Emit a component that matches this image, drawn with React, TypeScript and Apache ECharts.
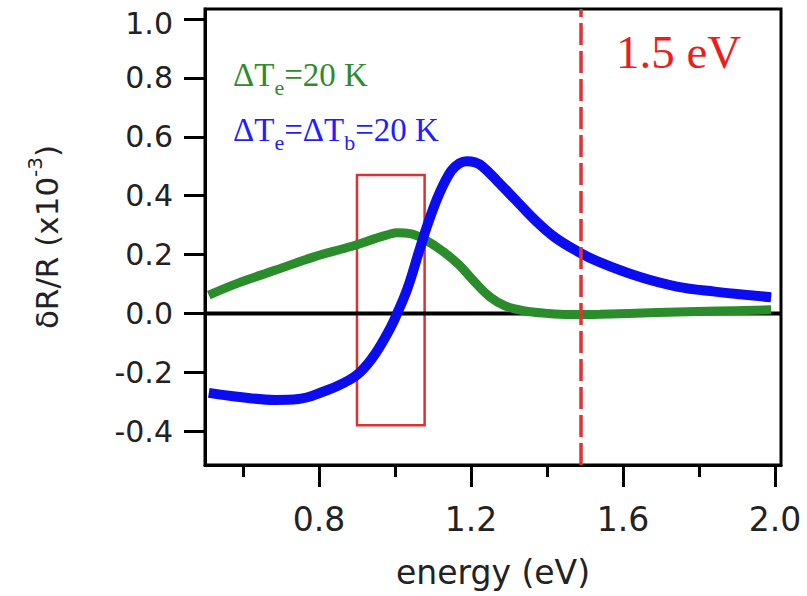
import React, { useEffect, useRef } from "react";
import * as echarts from "echarts";

// axis ticks / labels
const xMajorTicks = [0.8, 1.2, 1.6, 2.0];
const xMinorTicks = [0.6, 1.0, 1.4, 1.8];
const yTicks = [-0.4, -0.2, 0.0, 0.2, 0.4, 0.6, 0.8, 1.0];

// ΔTe = 20 K (green)
const greenE = [0.51, 0.585, 0.686, 0.787, 0.887, 0.947, 0.98, 1.008, 1.04, 1.078, 1.128, 1.169, 1.209, 1.249, 1.289, 1.339, 1.4, 1.46, 1.54, 1.69, 1.85, 1.99];
const greenV = [0.062, 0.102, 0.147, 0.192, 0.228, 0.254, 0.267, 0.274, 0.271, 0.251, 0.209, 0.164, 0.108, 0.057, 0.026, 0.009, 0.0, -0.004, -0.003, 0.003, 0.008, 0.012];

// ΔTe = ΔTb = 20 K (blue)
const blueE = [0.51, 0.585, 0.686, 0.746, 0.807, 0.867, 0.907, 0.947, 0.988, 1.008, 1.033, 1.063, 1.088, 1.118, 1.148, 1.17, 1.189, 1.21, 1.229, 1.269, 1.319, 1.37, 1.42, 1.48, 1.54, 1.641, 1.742, 1.842, 1.99];
const blueV = [-0.27, -0.283, -0.294, -0.291, -0.268, -0.235, -0.201, -0.139, -0.049, 0.007, 0.085, 0.209, 0.31, 0.411, 0.484, 0.51, 0.517, 0.513, 0.5, 0.45, 0.383, 0.315, 0.259, 0.211, 0.173, 0.125, 0.091, 0.074, 0.055];

// reference markers
const zeroLineE = [0.5, 2.016];
const zeroLineV = [0, 0];
const photonEnergy = 1.485;
const boxE = [0.9, 1.078];
const boxV = [-0.38, 0.47];

const zip = (a: number[], b: number[]) => a.map((v, i) => [v, b[i]]);

export default function App() {
  const ref = useRef<HTMLDivElement>(null);
  useEffect(() => {
    const chart = echarts.init(ref.current!, null, { renderer: "svg" });
    const sans = "DejaVu Sans";
    const serif = "Liberation Serif";
    const tickStyle = { color: "#000", width: 3 };
    chart.setOption({
      animation: false,
      backgroundColor: "#fff",
      grid: {
        left: 205,
        right: 26,
        top: 5,
        bottom: 131,
        show: true,
        borderColor: "#000",
        borderWidth: 3,
        backgroundColor: "transparent",
      },
      xAxis: [
        {
          type: "value",
          min: 0.5,
          max: 2.016,
          position: "bottom",
          axisLine: { show: true, onZero: false, lineStyle: tickStyle },
          axisTick: { show: true, customValues: xMajorTicks, length: 22, lineStyle: tickStyle },
          axisLabel: {
            customValues: xMajorTicks,
            formatter: (v: number) => v.toFixed(1),
            fontFamily: sans,
            fontSize: 33,
            color: "#222",
            margin: 38,
          },
          splitLine: { show: false },
          name: "energy (eV)",
          nameLocation: "middle",
          nameGap: 91,
          nameTextStyle: { fontFamily: sans, fontSize: 33, color: "#222" },
        },
        {
          type: "value",
          min: 0.5,
          max: 2.016,
          position: "bottom",
          axisLine: { show: false, onZero: false },
          axisTick: { show: true, customValues: xMinorTicks, length: 12, lineStyle: tickStyle },
          axisLabel: { show: false },
          splitLine: { show: false },
        },
      ],
      yAxis: {
        type: "value",
        min: -0.515,
        max: 1.034,
        axisLine: { show: true, onZero: false, lineStyle: tickStyle },
        axisTick: { show: true, customValues: yTicks, length: 21, lineStyle: tickStyle },
        axisLabel: {
          customValues: yTicks,
          formatter: (v: number) => (v >= 0.99 ? "{t|" + v.toFixed(1) + "}" : v.toFixed(1)),
          fontFamily: sans,
          fontSize: 30,
          lineHeight: 26,
          color: "#222",
          margin: 32,
          rich: {
            t: { fontFamily: sans, fontSize: 30, lineHeight: 26, color: "#222", padding: [8, 0, 0, 0] },
          },
        },
        splitLine: { show: false },
        name: "δR/R (x10{sup|-3})",
        nameLocation: "middle",
        nameRotate: 90,
        nameGap: 136,
        nameTextStyle: {
          fontFamily: sans,
          fontSize: 31,
          color: "#222",
          lineHeight: 44,
          rich: {
            sup: { fontFamily: sans, fontSize: 20, color: "#222", lineHeight: 16, verticalAlign: "top" },
          },
        },
      },
      series: [
        {
          type: "line",
          name: "zero",
          data: zip(zeroLineE, zeroLineV),
          showSymbol: false,
          silent: true,
          z: 1,
          lineStyle: { color: "#000", width: 4 },
        },
        {
          type: "line",
          name: "ΔTe=20 K",
          data: zip(greenE, greenV),
          smooth: 0.4,
          showSymbol: false,
          silent: true,
          z: 2,
          lineStyle: { color: "#2a8c2a", width: 9 },
        },
        {
          type: "line",
          name: "ΔTe=ΔTb=20 K",
          data: zip(blueE, blueV),
          smooth: 0.4,
          showSymbol: false,
          silent: true,
          z: 3,
          lineStyle: { color: "#0c0cf0", width: 10 },
        },
        {
          type: "line",
          name: "markers",
          data: [],
          silent: true,
          z: 5,
          markLine: {
            silent: true,
            symbol: "none",
            label: { show: false },
            lineStyle: { color: "#dd3333", type: [22, 6], width: 3.5 },
            data: [{ xAxis: photonEnergy }],
          },
          markArea: {
            silent: true,
            label: { show: false },
            itemStyle: { color: "rgba(0,0,0,0)", borderColor: "#d83232", borderWidth: 2.5 },
            data: [[{ coord: [boxE[0], boxV[1]] }, { coord: [boxE[1], boxV[0]] }]],
          },
        },
      ],
      graphic: [
        {
          type: "text",
          x: 233,
          y: 52,
          z: 10,
          style: {
            text: "{a|ΔT}{s|e}{a|=20 K}",
            fill: "#2e8b2e",
            verticalAlign: "top",
            rich: {
              a: { fontFamily: serif, fontSize: 33, fill: "#2e8b2e", lineHeight: 46 },
              s: { fontFamily: serif, fontSize: 22, fill: "#2e8b2e", lineHeight: 14, verticalAlign: "bottom" },
            },
          },
        },
        {
          type: "text",
          x: 233,
          y: 107,
          z: 10,
          style: {
            text: "{a|ΔT}{s|e}{a|=ΔT}{s|b}{a|=20 K}",
            fill: "#1e1eff",
            verticalAlign: "top",
            rich: {
              a: { fontFamily: serif, fontSize: 33, fill: "#1e1eff", lineHeight: 46 },
              s: { fontFamily: serif, fontSize: 22, fill: "#1e1eff", lineHeight: 14, verticalAlign: "bottom" },
            },
          },
        },
        {
          type: "text",
          x: 616,
          y: 28,
          z: 10,
          style: {
            text: "1.5 eV",
            fill: "#ee1c1c",
            fontFamily: serif,
            fontSize: 47,
            verticalAlign: "top",
          },
        },
      ],
    });
    return () => chart.dispose();
  }, []);
  return (
    <div
      ref={ref}
      style={{ position: "fixed", left: 0, top: 0, width: 807, height: 596 }}
    />
  );
}
